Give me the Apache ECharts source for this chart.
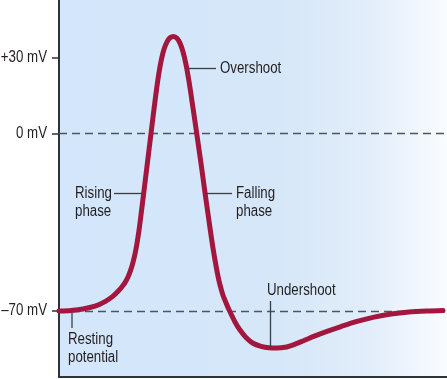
<!DOCTYPE html>
<html>
<head>
<meta charset="utf-8">
<script src="https://cdn.jsdelivr.net/npm/echarts@6/dist/echarts.min.js"></script>
<style>
html,body{margin:0;padding:0;background:#ffffff;}
#chart{width:447px;height:379px;}
</style>
</head>
<body>
<div id="chart"></div>
<script>
// Time (arbitrary units) and membrane potential (mV)
var timeValues = [0, 12, 24, 36, 46, 54, 60, 63, 66, 69, 72, 74, 76, 78, 80, 82, 85, 88.5, 92, 95, 97.5, 100, 102.5, 105, 108, 111, 114.5, 118, 121, 124, 127, 130, 133.5, 137.7, 142, 146, 150, 154, 157.5, 160.5, 164, 167.5, 171, 176, 181, 187, 194, 202, 210, 218, 226, 235, 245, 256, 268, 282, 298, 315, 332, 350, 368, 384];
var potentialValues = [-70, -69.75, -69.2, -68.1, -66.3, -64.1, -61.8, -60.4, -58.8, -56.6, -53.5, -50.8, -47.5, -43.3, -38.2, -32.1, -22.6, -11.3, 0, 9.6, 17.3, 24.0, 29.3, 33.2, 36.1, 37.7, 38.2, 37.5, 35.6, 32.2, 27.2, 20.5, 11.4, 0, -11.8, -23.3, -34.5, -45.2, -53.2, -58.9, -63.8, -67.2, -70.3, -74.3, -77.5, -80.4, -82.7, -83.9, -84.5, -84.6, -84.3, -83.2, -81.6, -79.8, -78.0, -76.1, -74.1, -72.4, -71.2, -70.4, -70.0, -69.8];
var yTickValues = [-70, 0, 30];
var yTickLabels = ['\u201370 mV', '0 mV', '+30 mV'];
var dashedLevels = [0, -70];

var FONT = '"Liberation Sans", Arial, sans-serif';
var TEXT_COLOR = '#231f20';
var NARROW = 0.83;

var chart = echarts.init(document.getElementById('chart'), null, {renderer: 'canvas'});

var seriesData = timeValues.map(function (t, i) { return [t, potentialValues[i]]; });

function txt(text, x, y, align) {
  return {
    type: 'text', x: x, y: y, z: 100, scaleX: NARROW,
    style: {text: text, fill: TEXT_COLOR, font: '16px ' + FONT, textVerticalAlign: 'middle', textAlign: align || 'left'}
  };
}
function seg(x1, y1, x2, y2) {
  return {
    type: 'line', z: 100,
    shape: {x1: x1, y1: y1, x2: x2, y2: y2},
    style: {stroke: '#3a3f45', lineWidth: 1.3}
  };
}

var option = {
  animation: false,
  backgroundColor: '#ffffff',
  grid: {
    left: 59, right: 0, top: 0, bottom: 2,
    outerBoundsMode: 'none',
    containLabel: false,
    show: true, borderWidth: 0,
    backgroundColor: new echarts.graphic.LinearGradient(0, 0, 1, 0, [
      {offset: 0, color: '#d4e6fb'},
      {offset: 0.55, color: '#d5e7f8'},
      {offset: 0.8, color: '#e2edfa'},
      {offset: 1, color: '#fafcff'}
    ])
  },
  xAxis: {
    type: 'value', min: 0, max: 388,
    axisLine: {show: true, onZero: false, lineStyle: {color: '#2b333b', width: 2}},
    axisTick: {show: false},
    axisLabel: {show: false},
    splitLine: {show: false}
  },
  yAxis: {
    type: 'value', min: -96, max: 52.6,
    axisLine: {show: true, onZero: false, lineStyle: {color: '#2b333b', width: 2}},
    axisTick: {show: true, customValues: yTickValues, length: 7, lineStyle: {color: '#2b333b', width: 1.5}},
    axisLabel: {show: false},
    splitLine: {show: false}
  },
  series: [{
    type: 'line',
    data: seriesData,
    smooth: 0.3,
    showSymbol: false,
    symbol: 'none',
    z: 10,
    lineStyle: {color: '#a3173f', width: 5, cap: 'round', join: 'round'},
    markLine: {
      silent: true,
      symbol: 'none',
      z: 5,
      label: {show: false},
      lineStyle: {color: '#4b5661', width: 1.3, type: [8, 5]},
      data: dashedLevels.map(function (v) { return {yAxis: v}; })
    }
  }],
  graphic: [
    seg(188, 68.5, 216, 68.5), txt('Overshoot', 220, 68.5),
    seg(114, 193.5, 142, 193.5), txt('Rising', 75, 193.5), txt('phase', 75, 212),
    seg(205, 193.5, 232, 193.5), txt('Falling', 236, 193.5), txt('phase', 236, 212),
    seg(270.5, 301, 270.5, 347), txt('Undershoot', 267, 291),
    seg(72, 313, 72, 328), txt('Resting', 68, 339.5), txt('potential', 68, 358)
  ]
};
chart.setOption(option);

// y-axis tick labels as narrow text, placed through the axis scale
var tickGraphics = yTickValues.map(function (v, i) {
  var py = chart.convertToPixel({yAxisIndex: 0}, v);
  var px = chart.convertToPixel({xAxisIndex: 0}, 0);
  return txt(yTickLabels[i], px - 12, py, 'right');
});
chart.setOption({graphic: option.graphic.concat(tickGraphics)});
</script>
</body>
</html>
